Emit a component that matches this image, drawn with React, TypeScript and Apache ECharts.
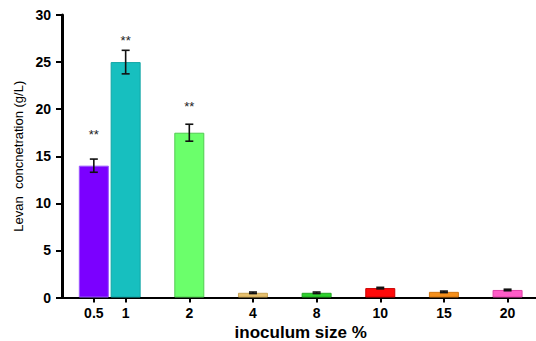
import React, { useEffect, useRef } from "react";
import * as echarts from "echarts";

const categories = ["0.5", "1", "2", "4", "8", "10", "15", "20"];
const positions = [0.5, 1, 2, 3, 4, 5, 6, 7];
const values = [14.0, 25.0, 17.5, 0.5, 0.5, 1.0, 0.6, 0.8];
const errors = [0.7, 1.25, 0.9, 0.08, 0.08, 0.08, 0.08, 0.08];
const barColors = ["#7B00FF", "#17BFBF", "#6BFF6B", "#E6C06E", "#2ED12E", "#FF0A0A", "#F5901C", "#FF5CC8"];
const barBorders = ["#9A55FF", "#12A5A5", "#52CC52", "#C9A455", "#23A823", "#CC0000", "#D07510", "#E040A8"];
const sigLabels = ["**", "**", "**", "", "", "", "", ""];
const sigY = [17.3, 27.3, 20.3, 0, 0, 0, 0, 0];
const yTicks = [0, 5, 10, 15, 20, 25, 30];

const FONT = "'Liberation Sans', Arial, sans-serif";

export default function App() {
  const ref = useRef<HTMLDivElement>(null);
  useEffect(() => {
    if (!ref.current) return;
    const chart = echarts.init(ref.current, null, { renderer: "svg" });
    const labelMap: Record<string, string> = {};
    positions.forEach((p, i) => (labelMap[String(p)] = categories[i]));
    chart.setOption({
      animation: false,
      grid: {
        left: 62,
        top: 15,
        right: -3.4,
        bottom: 43.5,
        containLabel: false,
        outerBoundsMode: "none",
      },
      xAxis: [
        {
          type: "value",
          min: 0,
          max: 7.5,
          interval: 0.5,
          splitLine: { show: false },
          axisLine: { show: true, onZero: false, lineStyle: { color: "#000", width: 2 } },
          axisTick: {
            show: true,
            customValues: positions,
            length: 5,
            lineStyle: { color: "#000", width: 2 },
          },
          axisLabel: {
            customValues: positions,
            formatter: (v: number) => labelMap[String(v)] ?? "",
            color: "#000",
            fontWeight: "bold",
            fontSize: 14,
            fontFamily: FONT,
            margin: 8,
          },
          name: "inoculum size %",
          nameLocation: "middle",
          nameGap: 19,
          nameTextStyle: { color: "#000", fontWeight: "bold", fontSize: 17, fontFamily: FONT },
        },
        {
          type: "value",
          position: "top",
          min: 0,
          max: 7.5,
          splitLine: { show: false },
          axisLine: { show: true, lineStyle: { color: "#000", width: 2 } },
          axisTick: { show: false },
          axisLabel: { show: false },
        },
      ],
      yAxis: {
        type: "value",
        min: 0,
        max: 30,
        interval: 5,
        splitLine: { show: false },
        axisLine: { show: true, lineStyle: { color: "#000", width: 3 } },
        axisTick: { show: true, length: 6, lineStyle: { color: "#000", width: 2 } },
        axisLabel: {
          color: "#000",
          fontWeight: "bold",
          fontSize: 14,
          fontFamily: FONT,
          margin: 11,
          customValues: yTicks,
        },
        name: "Levan  concnetration (g/L)",
        nameLocation: "middle",
        nameGap: 37,
        nameTextStyle: { color: "#000", fontSize: 13, fontFamily: FONT },
      },
      series: [
        {
          type: "bar",
          barWidth: 30,
          data: positions.map((p, i) => ({
            value: [p, values[i]],
            itemStyle: { color: barColors[i], borderColor: barBorders[i], borderWidth: 1 },
          })),
        },
        {
          type: "custom",
          renderItem: (params: any, api: any) => {
            const x = api.value(0);
            const v = api.value(1);
            const e = api.value(2);
            const top = api.coord([x, v + e]);
            const bot = api.coord([x, v - e]);
            const cap = 4;
            const style = { stroke: "#111", lineWidth: 1.6 };
            return {
              type: "group",
              children: [
                { type: "line", shape: { x1: top[0], y1: top[1], x2: bot[0], y2: bot[1] }, style },
                { type: "line", shape: { x1: top[0] - cap, y1: top[1], x2: top[0] + cap, y2: top[1] }, style },
                { type: "line", shape: { x1: bot[0] - cap, y1: bot[1], x2: bot[0] + cap, y2: bot[1] }, style },
              ],
            };
          },
          data: positions.map((p, i) => [p, values[i], errors[i]]),
          z: 5,
        },
        {
          type: "custom",
          renderItem: (params: any, api: any) => {
            const i = params.dataIndex;
            if (!sigLabels[i]) return null;
            const pt = api.coord([api.value(0), api.value(1)]);
            return {
              type: "text",
              x: pt[0],
              y: pt[1],
              style: {
                text: sigLabels[i],
                fill: "#222",
                fontSize: 13,
                fontFamily: FONT,
                align: "center",
                verticalAlign: "middle",
              },
            };
          },
          data: positions.map((p, i) => [p, sigY[i]]),
          z: 6,
        },
      ],
    });
    return () => chart.dispose();
  }, []);
  return (
    <div
      ref={ref}
      style={{ position: "absolute", left: 0, top: 0, width: 536, height: 341, background: "#fff" }}
    />
  );
}
